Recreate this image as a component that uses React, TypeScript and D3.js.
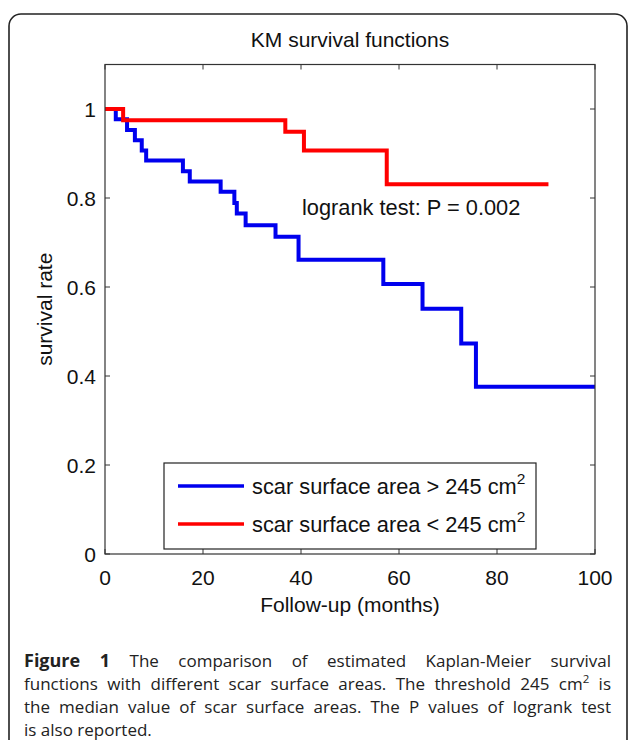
import React, { useEffect, useRef } from "react";
import * as d3 from "d3";

const W = 629;
const H = 740;

// Blue: scar surface area > 245 cm2
const blueTimes = [0, 2.2, 4.5, 6.1, 7.5, 8.4, 15.9, 17.3, 23.6, 26.4, 26.9, 28.7, 34.8, 39.5, 56.8, 64.8, 72.7, 75.7];
const blueSurv = [1, 0.977, 0.953, 0.93, 0.907, 0.884, 0.86, 0.837, 0.814, 0.789, 0.765, 0.739, 0.713, 0.661, 0.607, 0.551, 0.473, 0.376];
const blueEnd = 100;

// Red: scar surface area < 245 cm2
const redTimes = [0, 3.7, 36.8, 40.6, 57.5];
const redSurv = [1, 0.975, 0.949, 0.907, 0.831];
const redEnd = 90.5;

const xTicks = [0, 20, 40, 60, 80, 100];
const yTicks = [0, 0.2, 0.4, 0.6, 0.8, 1];
const legendLabels = ["scar surface area > 245 cm", "scar surface area < 245 cm"];
const legendColors = ["#0000ee", "#ff0000"];

const captionLines = [
  [{ t: "Figure 1", b: true }, { t: " The comparison of estimated Kaplan-Meier survival" }],
  [{ t: "functions with different scar surface areas. The threshold 245 cm" }, { t: "2", sup: true }, { t: " is" }],
  [{ t: "the median value of scar surface areas. The P values of logrank test" }],
  [{ t: "is also reported." }],
];

const CHART_FONT = "'Liberation Sans', Arial, sans-serif";
const CAP_FONT = "'Open Sans', 'Noto Sans', sans-serif";

export default function App() {
  const ref = useRef<SVGSVGElement>(null);

  useEffect(() => {
    const svg = d3.select(ref.current);
    svg.selectAll("*").remove();

    // outer frame
    svg.append("rect")
      .attr("x", 9).attr("y", 14).attr("width", 618).attr("height", 780)
      .attr("rx", 12).attr("fill", "white").attr("stroke", "#222").attr("stroke-width", 1.6);

    const x = d3.scaleLinear().domain([0, 100]).range([105, 595]);
    const y = d3.scaleLinear().domain([0, 1.1]).range([554, 64.5]);
    const [x0, x1] = x.range();
    const [yb, yt] = y.range();

    // title
    svg.append("text").attr("x", (x0 + x1) / 2).attr("y", 47)
      .attr("text-anchor", "middle").attr("font-family", CHART_FONT).attr("font-size", 21)
      .attr("fill", "#111").text("KM survival functions");

    const g = svg.append("g");

    // ticks (inward, all four sides)
    const tl = 5;
    xTicks.forEach((t) => {
      g.append("line").attr("x1", x(t)).attr("x2", x(t)).attr("y1", yb).attr("y2", yb - tl).attr("stroke", "#333");
      g.append("line").attr("x1", x(t)).attr("x2", x(t)).attr("y1", yt).attr("y2", yt + tl).attr("stroke", "#333");
      g.append("text").attr("x", x(t)).attr("y", yb + 31).attr("text-anchor", "middle")
        .attr("font-family", CHART_FONT).attr("font-size", 21).attr("fill", "#111").text(String(t));
    });
    yTicks.forEach((t) => {
      g.append("line").attr("x1", x0).attr("x2", x0 + tl).attr("y1", y(t)).attr("y2", y(t)).attr("stroke", "#333");
      g.append("line").attr("x1", x1).attr("x2", x1 - tl).attr("y1", y(t)).attr("y2", y(t)).attr("stroke", "#333");
      g.append("text").attr("x", x0 - 9).attr("y", y(t) + 7.5).attr("text-anchor", "end")
        .attr("font-family", CHART_FONT).attr("font-size", 21).attr("fill", "#111").text(d3.format("~g")(t));
    });

    // curves
    const line = d3.line<[number, number]>().x((d) => x(d[0])).y((d) => y(d[1])).curve(d3.curveStepAfter);
    const series = [
      { times: blueTimes, surv: blueSurv, end: blueEnd, color: legendColors[0] },
      { times: redTimes, surv: redSurv, end: redEnd, color: legendColors[1] },
    ];
    series.forEach((s) => {
      const pts: [number, number][] = s.times.map((t, i) => [t, s.surv[i]]);
      pts.push([s.end, s.surv[s.surv.length - 1]]);
      g.append("path").attr("d", line(pts)).attr("fill", "none").attr("stroke", s.color)
        .attr("stroke-width", 4).attr("stroke-linejoin", "miter");
    });

    // box
    g.append("rect").attr("x", x0).attr("y", yt).attr("width", x1 - x0).attr("height", yb - yt)
      .attr("fill", "none").attr("stroke", "#333").attr("stroke-width", 1.2);

    // logrank annotation
    g.append("text").attr("x", 302).attr("y", 215).attr("font-family", CHART_FONT).attr("font-size", 21.8)
      .attr("fill", "#111").text("logrank test: P = 0.002");

    // legend
    const lg = g.append("g");
    lg.append("rect").attr("x", 164).attr("y", 463).attr("width", 372).attr("height", 86)
      .attr("fill", "white").attr("stroke", "#222").attr("stroke-width", 1.2);
    legendLabels.forEach((lab, i) => {
      const ly = 486 + i * 38;
      lg.append("line").attr("x1", 178).attr("x2", 244).attr("y1", ly).attr("y2", ly)
        .attr("stroke", legendColors[i]).attr("stroke-width", 3.5);
      const tx = lg.append("text").attr("x", 252).attr("y", ly + 8).attr("font-family", CHART_FONT)
        .attr("font-size", 21.8).attr("fill", "#111");
      tx.append("tspan").text(lab);
      tx.append("tspan").attr("dy", -10).attr("font-size", 15.5).text("2");
    });

    // axis labels
    g.append("text").attr("x", (x0 + x1) / 2).attr("y", 612).attr("text-anchor", "middle")
      .attr("font-family", CHART_FONT).attr("font-size", 21).attr("fill", "#111").text("Follow-up (months)");
    g.append("text").attr("transform", `translate(52,${(yb + yt) / 2}) rotate(-90)`).attr("text-anchor", "middle")
      .attr("font-family", CHART_FONT).attr("font-size", 21).attr("fill", "#111").text("survival rate");

    // caption
    const capX = 24, capW = 587;
    captionLines.forEach((ln, i) => {
      const tx = svg.append("text").attr("x", capX).attr("y", 667 + i * 23)
        .attr("font-family", CAP_FONT).attr("font-size", 17).attr("fill", "#222");
      ln.forEach((seg: any, j: number) => {
        const ts = tx.append("tspan").text(seg.t);
        if (seg.b) ts.attr("font-weight", "bold").attr("font-size", 18);
        if (seg.sup) ts.attr("dy", -7).attr("font-size", 11.5);
        else if (j > 0 && ln[j - 1] && (ln[j - 1] as any).sup) ts.attr("dy", 7);
      });
      if (i < captionLines.length - 1) {
        const node = tx.node() as SVGTextElement;
        const w = node.getComputedTextLength();
        const full = ln.map((s: any) => s.t).join("");
        const spaces = (full.match(/ /g) || []).length;
        if (spaces > 0) tx.attr("word-spacing", (capW - w) / spaces);
      }
    });
  }, []);

  return (
    <svg ref={ref} width={W} height={H}
      style={{ position: "absolute", left: 0, top: 0, background: "white" }} />
  );
}
